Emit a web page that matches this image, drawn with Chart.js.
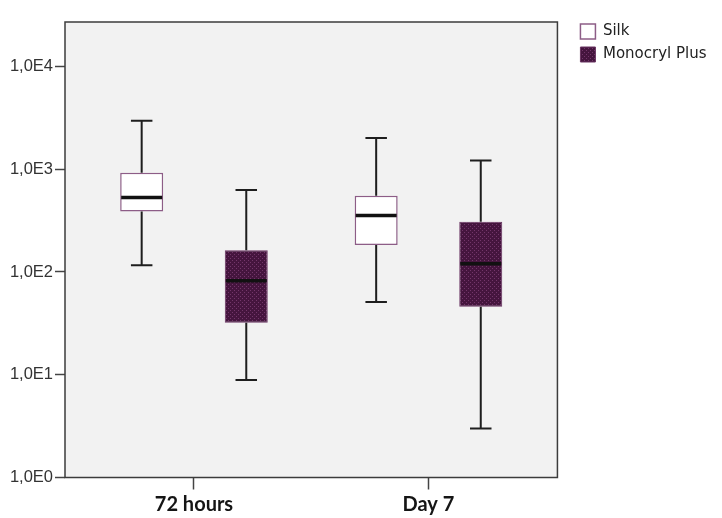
<!DOCTYPE html>
<html>
<head>
<meta charset="utf-8">
<script src="https://cdn.jsdelivr.net/npm/chart.js@4/dist/chart.umd.min.js"></script>
<style>
    html, body { margin: 0; padding: 0; background: #ffffff; }
    #wrap { width: 722px; height: 518px; }
</style>
</head>
<body>
<div id="wrap"><canvas id="boxChart" width="722" height="518"></canvas></div>
<script>
// 兩個時間點、兩種縫線
const categories = ["72 hours", "Day 7"];

// Silk：最小值 / Q1 / 中位數 / Q3 / 最大值
const silkMin = [116, 51];
const silkQ1 = [388, 183];
const silkMedian = [531, 355];
const silkQ3 = [924, 552];
const silkMax = [2960, 2010];

// Monocryl Plus
const monoMin = [8.9, 3.0];
const monoQ1 = [32, 46];
const monoMedian = [82, 120];
const monoQ3 = [163, 308];
const monoMax = [627, 1217];

// Y 軸只標 10 的次方
const yTickValues = [1, 10, 100, 1000, 10000];
const yTickLabels = ["1,0E0", "1,0E1", "1,0E2", "1,0E3", "1,0E4"];

// 盒子離類別中心的距離（以 x 軸單位計）
const BOX_OFFSET = 0.223;

const canvas = document.getElementById("boxChart");

// Monocryl Plus 的點狀網底
function makeDotPattern() {
    const tile = document.createElement("canvas");
    tile.width = 4;
    tile.height = 4;
    const c = tile.getContext("2d");
    c.fillStyle = "#45153e";
    c.fillRect(0, 0, 4, 4);
    c.fillStyle = "#73366a";
    c.fillRect(0, 0, 1, 1);
    c.fillRect(2, 2, 1, 1);
    return canvas.getContext("2d").createPattern(tile, "repeat");
}

function buildBoxes(q1, q3, shift) {
    return categories.map((name, i) => ({ x: i + 1 + shift, y: [q1[i], q3[i]] }));
}

// 鬍鬚與中位數線：用 y 軸換算像素，x 位置跟著 bar 元素走
const whiskerPlugin = {
    id: "whiskers",
    afterDatasetsDraw(chart) {
        const ctx = chart.ctx;
        const yScale = chart.scales.y;
        chart.data.datasets.forEach((ds, di) => {
            const meta = chart.getDatasetMeta(di);
            meta.data.forEach((bar, i) => {
                const x = bar.x;
                const half = bar.width / 2;
                const yMin = yScale.getPixelForValue(ds.stats.min[i]);
                const yQ1 = yScale.getPixelForValue(ds.stats.q1[i]);
                const yMed = yScale.getPixelForValue(ds.stats.median[i]);
                const yQ3 = yScale.getPixelForValue(ds.stats.q3[i]);
                const yMax = yScale.getPixelForValue(ds.stats.max[i]);

                ctx.save();
                ctx.strokeStyle = "#1e1e1e";
                ctx.lineWidth = 2;
                ctx.beginPath();
                ctx.moveTo(x, yQ3);
                ctx.lineTo(x, yMax);
                ctx.moveTo(x - half / 2, yMax);
                ctx.lineTo(x + half / 2, yMax);
                ctx.moveTo(x, yQ1);
                ctx.lineTo(x, yMin);
                ctx.moveTo(x - half / 2, yMin);
                ctx.lineTo(x + half / 2, yMin);
                ctx.stroke();

                ctx.strokeStyle = "#111111";
                ctx.lineWidth = 3.5;
                ctx.beginPath();
                ctx.moveTo(x - half + 1, yMed);
                ctx.lineTo(x + half - 1, yMed);
                ctx.stroke();
                ctx.restore();
            });
        });
    }
};

// 灰色繪圖區與外框
const plotFramePlugin = {
    id: "plotFrame",
    beforeDraw(chart) {
        const a = chart.chartArea;
        const ctx = chart.ctx;
        ctx.save();
        ctx.fillStyle = "#f2f2f2";
        ctx.fillRect(a.left, a.top, a.width, a.height);
        ctx.restore();
    },
    beforeDatasetsDraw(chart) {
        const a = chart.chartArea;
        const ctx = chart.ctx;
        ctx.save();
        ctx.strokeStyle = "#3c3c3c";
        ctx.lineWidth = 1.5;
        ctx.strokeRect(a.left, a.top, a.width, a.height);
        ctx.restore();
    }
};

new Chart(canvas, {
    type: "bar",
    data: {
        datasets: [
            {
                label: "Silk",
                data: buildBoxes(silkQ1, silkQ3, -BOX_OFFSET),
                stats: { min: silkMin, q1: silkQ1, median: silkMedian, q3: silkQ3, max: silkMax },
                backgroundColor: "#ffffff",
                borderColor: "#8d5d87",
                borderWidth: 1.5,
                borderSkipped: false,
                grouped: false,
                maxBarThickness: 43
            },
            {
                label: "Monocryl Plus",
                data: buildBoxes(monoQ1, monoQ3, BOX_OFFSET),
                stats: { min: monoMin, q1: monoQ1, median: monoMedian, q3: monoQ3, max: monoMax },
                backgroundColor: makeDotPattern(),
                borderColor: "#6a3563",
                borderWidth: 1,
                borderSkipped: false,
                grouped: false,
                maxBarThickness: 43
            }
        ]
    },
    options: {
        responsive: false,
        animation: false,
        devicePixelRatio: 1,
        layout: { padding: { top: 16, right: 5.5, left: 0, bottom: 0 } },
        scales: {
            x: {
                type: "linear",
                position: "bottom",
                min: 0.45,
                max: 2.55,
                offset: false,
                afterBuildTicks: (scale) => {
                    scale.ticks = categories.map((name, i) => ({ value: i + 1 }));
                },
                afterFit: (scale) => { scale.height = 40.5; },
                ticks: {
                    callback: (value, index) => categories[index],
                    font: { family: "Lato", weight: "bold", size: 20 },
                    color: "#151515",
                    padding: 3,
                    maxRotation: 0,
                    autoSkip: false
                },
                grid: { drawOnChartArea: false, drawTicks: true, tickLength: 12, color: "#444444", tickWidth: 1.5, offset: false },
                border: { display: false }
            },
            y: {
                type: "logarithmic",
                position: "left",
                min: 1,
                max: 27100,
                afterBuildTicks: (scale) => {
                    scale.ticks = yTickValues.map((v) => ({ value: v }));
                },
                afterFit: (scale) => { scale.width = 65; },
                ticks: {
                    callback: (value, index) => yTickLabels[index],
                    font: { family: "Liberation Sans", size: 16.5 },
                    color: "#333333",
                    padding: 2
                },
                grid: { drawOnChartArea: false, drawTicks: true, tickLength: 10, color: "#444444", tickWidth: 1.5 },
                border: { display: false }
            },
            // 兩條不顯示的軸，只是用來把圖例和繪圖區的間距撐出來
            xTop: {
                type: "linear",
                position: "top",
                ticks: { display: false },
                grid: { display: false },
                border: { display: false },
                afterFit: (scale) => { scale.height = 6; }
            },
            yRight: {
                type: "linear",
                position: "right",
                ticks: { display: false },
                grid: { display: false },
                border: { display: false },
                afterFit: (scale) => { scale.width = 15; }
            }
        },
        plugins: {
            tooltip: { enabled: false },
            legend: {
                position: "right",
                align: "start",
                maxWidth: 220,
                labels: {
                    boxWidth: 15,
                    boxHeight: 15,
                    padding: 8,
                    color: "#222222",
                    font: { family: "DejaVu Sans", size: 15 }
                }
            }
        }
    },
    plugins: [plotFramePlugin, whiskerPlugin]
});
</script>
</body>
</html>
